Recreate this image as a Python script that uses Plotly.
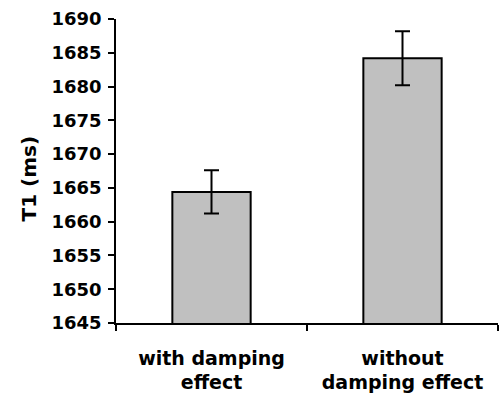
import plotly.graph_objects as go

categories = ["with damping<br>effect", "without<br>damping effect"]
means = [1664.4, 1684.2]
errors = [3.2, 4.0]
y_ticks = [1645, 1650, 1655, 1660, 1665, 1670, 1675, 1680, 1685, 1690]

fig = go.Figure()
fig.add_trace(go.Bar(
    x=categories, y=means,
    width=0.41,
    marker=dict(color="#C0C0C0", line=dict(color="black", width=2)),
    error_y=dict(type="data", array=errors, visible=True, color="black",
                 thickness=2, width=7.5),
))

font_family = "DejaVu Sans"
fig.update_layout(
    width=504, height=394,
    margin=dict(l=116, r=6, t=19, b=71),
    paper_bgcolor="white", plot_bgcolor="white",
    showlegend=False,
    xaxis=dict(
        showline=True, linecolor="black", linewidth=1.5,
        ticks="outside", tickson="boundaries", ticklen=6, tickcolor="black", tickwidth=1.5,
        tickfont=dict(family=font_family, size=19, color="black", weight="bold"),
        ticklabelstandoff=17, automargin=False,
        showgrid=False, zeroline=False,
    ),
    yaxis=dict(
        range=[1645, 1690], tickvals=y_ticks,
        showline=True, linecolor="black", linewidth=1.5,
        ticks="outside", ticklen=6, tickcolor="black", tickwidth=1.5,
        tickfont=dict(family=font_family, size=18, color="black", weight="bold"),
        ticklabelstandoff=3, automargin=False,
        showgrid=False, zeroline=False,
    ),
    annotations=[dict(
        text="<b>T1 (ms)</b>", textangle=-90,
        xref="paper", yref="paper", x=(28 - 116) / 382, y=(323 - 178.5) / 304,
        xanchor="center", yanchor="middle", showarrow=False,
        font=dict(family=font_family, size=20, color="black"),
    )],
)

fig.write_html("out.html")
